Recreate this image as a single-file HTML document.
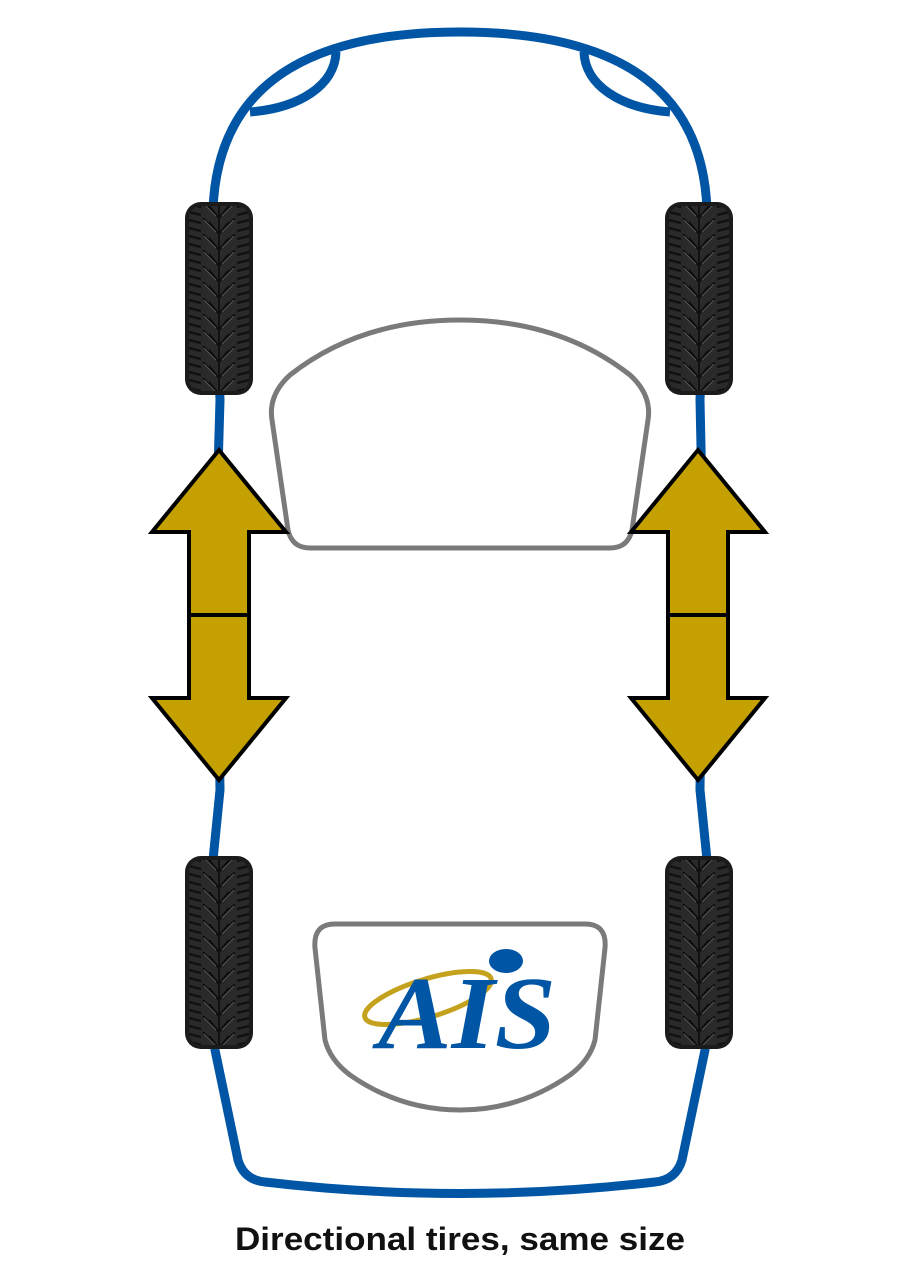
<!DOCTYPE html>
<html><head><meta charset="utf-8"><style>
html,body{margin:0;padding:0;background:#fff;}
svg{display:block;}
</style></head><body>
<svg width="920" height="1280" viewBox="0 0 920 1280" xmlns="http://www.w3.org/2000/svg">
<defs>
<pattern id="tread" x="0" y="0" width="68" height="16" patternUnits="userSpaceOnUse">
<rect width="68" height="16" fill="#2a2a2a"/>
<path d="M4 2 L16 5 M4 10 L16 13 M52 5 L64 2 M52 13 L64 10" stroke="#111" stroke-width="2.5"/>
<path d="M18 0 L30 12 M50 0 L38 12 M24 4 L34 16 M44 4 L34 16" stroke="#0c0c0c" stroke-width="2"/>
<path d="M19 2 L31 14 M49 2 L37 14" stroke="#555" stroke-width="1"/>
</pattern>
<g id="tire">
<rect x="0" y="0" width="68" height="193" rx="16" fill="#1b1b1b"/>
<rect x="4" y="4" width="60" height="185" rx="12" fill="url(#tread)"/>
<line x1="34" y1="4" x2="34" y2="189" stroke="#111" stroke-width="2"/>
</g>
<g id="arrow">
<path d="M0 -165 L67 -83 L30 -83 L30 83 L67 83 L0 165 L-67 83 L-30 83 L-30 -83 L-67 -83 Z" fill="#c4a000" stroke="#000" stroke-width="4" stroke-linejoin="miter"/>
<line x1="-30" y1="0" x2="30" y2="0" stroke="#000" stroke-width="4"/>
</g>
</defs>
<g fill="none" stroke="#0055a5" stroke-width="9" stroke-linejoin="round">
<path d="M213 210 C218 70 330 32 460 32 C590 32 702 70 707 210 L700 400 L703 540 L700 790 L707 860 L705 1050 L682 1160 Q676 1180 655 1182 Q460 1205 265 1182 Q244 1180 238 1160 L215 1050 L213 860 L220 790 L216 540 L220 400 Z"/>
<path d="M336 52 C335 85 300 108 250 112"/>
<path d="M584 52 C585 85 620 108 670 112"/>
</g>
<g fill="none" stroke="#7a7a7a" stroke-width="5">
<path d="M310 548 L610 548 Q628 548 632 530 L648 420 Q652 395 630 375 Q560 320 460 320 Q360 320 290 375 Q268 395 272 420 L288 530 Q292 548 310 548 Z"/>
<path d="M335 924 L585 924 Q607 924 605 948 L595 1040 Q590 1060 570 1075 Q520 1110 460 1110 Q400 1110 350 1075 Q330 1060 325 1040 L315 948 Q313 924 335 924 Z"/>
</g>
<use href="#tire" x="185" y="202"/>
<use href="#tire" x="665" y="202"/>
<use href="#tire" x="185" y="856"/>
<use href="#tire" x="665" y="856"/>
<use href="#arrow" x="219" y="615"/>
<use href="#arrow" x="698" y="615"/>
<ellipse cx="428" cy="998" rx="66" ry="19" transform="rotate(-17 428 998)" fill="none" stroke="#c4a21e" stroke-width="5"/>
<ellipse cx="506" cy="961" rx="17" ry="12" fill="#0055a5"/>
<text x="378" y="1048" font-family="Liberation Serif, serif" font-style="italic" font-weight="bold" font-size="104" fill="#0055a5" textLength="178" lengthAdjust="spacingAndGlyphs">AIS</text>
<text x="460" y="1250" text-anchor="middle" font-family="Liberation Sans, sans-serif" font-weight="bold" font-size="32" fill="#111" textLength="450" lengthAdjust="spacingAndGlyphs">Directional tires, same size</text>
</svg>
</body></html>
